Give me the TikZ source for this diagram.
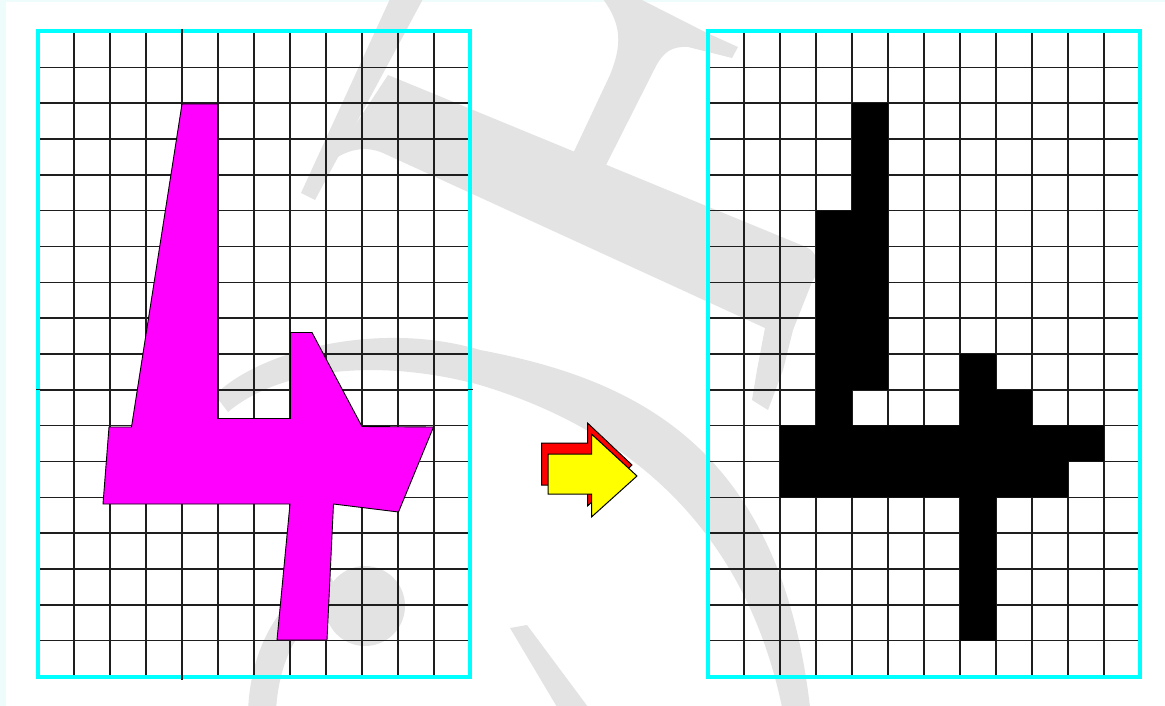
\documentclass[tikz,border=0pt]{standalone}
\definecolor{wm}{RGB}{227,227,227}
\definecolor{framec}{RGB}{0,255,255}
\definecolor{bgc}{RGB}{238,252,252}
\definecolor{gridc}{RGB}{30,30,30}
\definecolor{magentac}{RGB}{255,0,255}
\definecolor{yellowc}{RGB}{255,255,0}
\definecolor{redc}{RGB}{255,0,0}
\tikzset{
  wmark/.style={fill=wm, draw=none},
  wstroke/.style={draw=wm, line width=#1, line cap=butt},
  gridline/.style={draw=gridc, line width=1.35pt},
  frameline/.style={draw=framec, line width=4pt},
  digit/.style={fill=magentac, draw=black, line width=0.9pt, line join=miter},
  pixel/.style={fill=black, draw=none},
  arrowfront/.style={fill=yellowc, draw=black, line width=1pt, line join=miter},
  arrowback/.style={fill=redc, draw=black, line width=1pt, line join=miter},
}
\begin{document}
\begin{tikzpicture}[x=1pt,y=-1pt]
\useasboundingbox (0,0) rectangle (1165,706);
% background
\fill[bgc] (0,0) rectangle (1165,706);
\fill[white] (6,2) rectangle (1165,706);

% watermark
\fill[wmark] (390,-1) -- (423,-1) -- (315,200) -- (301,193) -- cycle;
\fill[wmark] (388,75) -- (806,247) .. controls (818,252) and (822,268) .. (812,282)
  -- (793,330) -- (783,370) -- (768,410) -- (752,400) -- (757,370) -- (765,328)
  -- (383,153) .. controls (365,145) and (345,150) .. (331,162) -- cycle;
\fill[wmark] (603,-1) .. controls (622,25) and (622,45) .. (610,75) -- (570,160)
  -- (602,173) -- (655,68) .. controls (663,52) and (672,46) .. (688,47)
  -- (732,58) -- (738,47) -- (707,33) -- (640,-1) -- cycle;
\fill[wmark] (215,395) .. controls (260,350) and (380,320) .. (480,350)
  .. controls (640,380) and (780,450) .. (810,707) -- (782,707)
  .. controls (745,530) and (630,430) .. (480,385)
  .. controls (380,358) and (280,368) .. (228,412) -- cycle;
\fill[wmark] (365,606) circle (40);
\draw[wstroke=28] (262,712) .. controls (264,660) and (285,610) .. (335,585);
\fill[wmark] (510,628) -- (527,625) -- (588,707) -- (557,707) -- cycle;

% left grid
\foreach \i in {1,...,11} \draw[gridline] ({38+36*\i},31.5) -- ({38+36*\i},676.5);
\foreach \j in {1,...,17} \draw[gridline] (38,{31.5+35.833*\j}) -- (470,{31.5+35.833*\j});
\draw[frameline] (38,31.5) rectangle (470,676.5);
\draw[gridline] (182,29) -- (182,679.5);
\draw[gridline] (35.5,389.8) -- (473,389.8);

% right grid
\foreach \i in {1,...,11} \draw[gridline] ({708+36*\i},31.5) -- ({708+36*\i},676.5);
\foreach \j in {1,...,17} \draw[gridline] (708,{31.5+35.833*\j}) -- (1140,{31.5+35.833*\j});
\draw[frameline] (708,31.5) rectangle (1140,676.5);

% hand-drawn digit 4
\path[digit] (182,104) -- (217.5,104) -- (217.5,418.5) -- (290.5,418.5) -- (290.5,332.5)
  -- (312,332.5) -- (362,426.5) -- (433.5,427) -- (398.5,512) -- (333.5,504)
  -- (327,640) -- (277,640) -- (290,504) -- (103,504) -- (109,427) -- (131.5,427) -- cycle;

% pixelated digit 4
\fill[pixel]
  ({708+36*4},{31.5+35.833*2}) rectangle ({708+36*5},{31.5+35.833*5})
  ({708+36*3},{31.5+35.833*5}) rectangle ({708+36*5},{31.5+35.833*10})
  ({708+36*3},{31.5+35.833*9.9}) rectangle ({708+36*4},{31.5+35.833*11})
  ({708+36*7},{31.5+35.833*9}) rectangle ({708+36*8},{31.5+35.833*11})
  ({708+36*7.9},{31.5+35.833*10}) rectangle ({708+36*9},{31.5+35.833*11})
  ({708+36*2},{31.5+35.833*10.99}) rectangle ({708+36*11},{31.5+35.833*12})
  ({708+36*2},{31.5+35.833*11.9}) rectangle ({708+36*10},{31.5+35.833*13})
  ({708+36*7},{31.5+35.833*12.9}) rectangle ({708+36*8},{31.5+35.833*17});

% arrow
\path[arrowback] (541.5,443) -- (587.5,443) -- (587.5,423) -- (632,465) -- (587.5,506)
  -- (587.5,485) -- (541.5,485) -- cycle;
\path[arrowfront] (548,454) -- (591.5,454) -- (591.5,434) -- (637,476) -- (591.5,517)
  -- (591.5,494) -- (548,494) -- cycle;
\end{tikzpicture}
\end{document}
